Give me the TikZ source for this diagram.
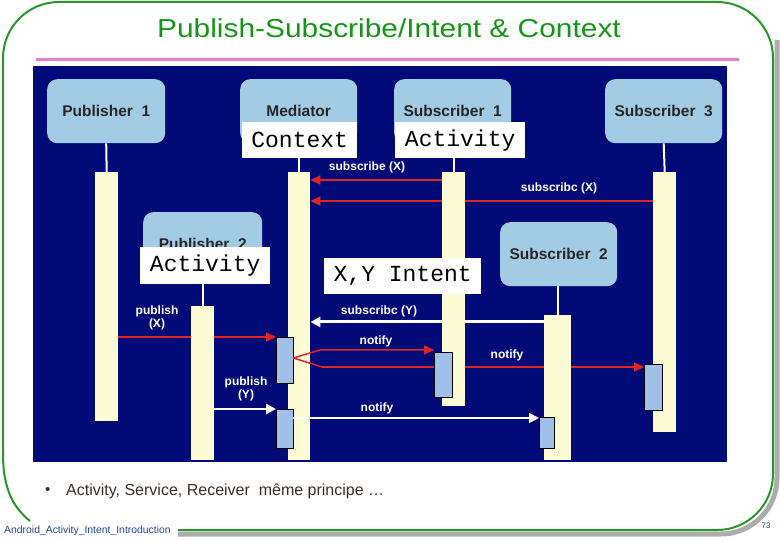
\documentclass[tikz,border=0pt]{standalone}
\usepackage{fontspec}
\setmainfont{Liberation Sans}
\newfontfamily\monofont{Liberation Mono}
\newfontfamily\titlefont[FakeStretch=1.15]{Liberation Sans}
\usetikzlibrary{arrows.meta}
\definecolor{navy}{RGB}{2,10,120}
\definecolor{boxblue}{RGB}{163,203,228}
\definecolor{baryel}{RGB}{252,251,212}
\definecolor{actblue}{RGB}{160,192,234}
\definecolor{arred}{RGB}{225,35,35}
\definecolor{framegreen}{RGB}{40,150,40}
\definecolor{pinkline}{RGB}{225,128,210}
\definecolor{titlegreen}{RGB}{20,150,20}
\definecolor{bullettxt}{RGB}{60,45,35}
\definecolor{footblue}{RGB}{30,70,150}
\begin{document}
\begin{tikzpicture}[x=1pt,y=-1pt,
  rbox/.style={fill=boxblue, rounded corners=10pt, anchor=north west, inner sep=0pt,
    minimum width=118pt, minimum height=64pt, text=black!85, font=\bfseries\fontsize{15.5}{18}\selectfont},
  wbox/.style={fill=white, anchor=north west, inner sep=0pt, minimum height=36pt,
    font=\monofont\fontsize{23}{25}\selectfont},
  abox/.style={fill=actblue, draw=black, line width=0.9pt},
  ghost/.style={anchor=north west, inner sep=0pt},
  life/.style={white, line width=2pt},
  redmsg/.style={arred, line width=1.5pt, -{Triangle[length=10pt,width=9pt]}},
  whitemsg/.style={white, line width=2.5pt, -{Triangle[length=10pt,width=10pt]}},
  lbl/.style={text=white, font=\bfseries\fontsize{12}{13}\selectfont, inner sep=0pt, align=center},
]
\useasboundingbox (0,0) rectangle (780,540);
% frame
\draw[gray!65, line width=5pt, rounded corners=56pt] (777,40) -- (777,534) -- (178,534);
\draw[framegreen, line width=2pt, rounded corners=56pt] (178,530) -- (773,530) -- (773,2) -- (3,2) -- (3,455);
\draw[framegreen, line width=2pt] (3,454) .. controls (3,490) and (14,508) .. (30,521);
% title
\node[text=titlegreen, font=\titlefont\fontsize{26}{28}\selectfont] (title) at (389,28) {Publish-Subscribe/Intent \& Context};
\draw[pinkline, line width=3pt] (36,60) -- (739,60);
% panel
\fill[navy] (33,66) rectangle (727,462);
% place-holders for the bars and activation boxes
\node[ghost, minimum width=23pt, minimum height=249pt] (p1bar) at (95,172) {};
\node[ghost, minimum width=22pt, minimum height=288pt] (medbar) at (288,172) {};
\node[ghost, minimum width=23pt, minimum height=234pt] (s1bar) at (442,172) {};
\node[ghost, minimum width=23pt, minimum height=260pt] (s3bar) at (653,172) {};
\node[ghost, minimum width=23pt, minimum height=154pt] (p2bar) at (191,306) {};
\node[ghost, minimum width=27pt, minimum height=145pt] (s2bar) at (544,315) {};
\node[ghost, minimum width=17pt, minimum height=46pt] (ma1) at (276,337) {};
\node[ghost, minimum width=17pt, minimum height=39pt] (ma2) at (276,409) {};
\node[ghost, minimum width=18pt, minimum height=45pt] (sa1) at (434,352) {};
\node[ghost, minimum width=18pt, minimum height=46pt] (sa3) at (644,364) {};
\node[ghost, minimum width=15pt, minimum height=31pt] (sa2) at (539,417) {};
\coordinate (nfork) at (ma1.east |- 0,358);
\coordinate (nup) at (320,350);
\coordinate (nlow) at (322,367);
% messages passing behind bars
\draw[redmsg] (s3bar.west |- 0,201) -- (medbar.east |- 0,201);
\draw[whitemsg, line width=3pt] (s2bar.west |- 0,322) -- (medbar.east |- 0,322);
\draw[redmsg] (p1bar.east |- 0,337) -- (ma1.west |- 0,337);
\draw[redmsg] (nlow) -- (sa3.west |- 0,367);
% bars
\fill[baryel] (p1bar.north west) rectangle (p1bar.south east);
\fill[baryel] (medbar.north west) rectangle (medbar.south east);
\fill[baryel] (s1bar.north west) rectangle (s1bar.south east);
\fill[baryel] (s3bar.north west) rectangle (s3bar.south east);
\fill[baryel] (p2bar.north west) rectangle (p2bar.south east);
\fill[baryel] (s2bar.north west) rectangle (s2bar.south east);
% boxes
\node[rbox] (pub1) at (47,79) {Publisher\ \ 1};
\node[rbox, minimum width=117pt] (med) at (240,79) {Mediator};
\node[rbox, minimum width=117pt] (sub1) at (394,79) {Subscriber\ \ 1};
\node[rbox, minimum width=117pt] (sub3) at (605,79) {Subscriber\ \ 3};
\node[rbox, minimum width=119pt] (pub2) at (143,212) {Publisher\ \ 2};
\node[rbox, minimum width=117pt] (sub2) at (500,222) {Subscriber\ \ 2};
\node[wbox, minimum width=115pt] (ctx) at (242,122) {Context};
\node[wbox, minimum width=130pt] (act1) at (395,122) {Activity};
\node[wbox, minimum width=130pt, minimum height=37pt] (act2) at (140,247) {Activity};
\node[wbox, minimum width=157pt] (intent) at (324,258) {X,Y Intent};
% lifelines
\draw[life] (pub1.south) -- (p1bar.north);
\draw[life] (medbar.north |- ctx.south) -- (medbar.north);
\draw[life] (s1bar.north |- act1.south) -- (s1bar.north);
\draw[life] (sub3.south) -- (s3bar.north);
\draw[life] (p2bar.north |- act2.south) -- (p2bar.north);
\draw[life] (s2bar.north |- sub2.south) -- (s2bar.north);
% activation boxes
\draw[abox] (ma1.north west) rectangle (ma1.south east);
\draw[abox] (ma2.north west) rectangle (ma2.south east);
\draw[abox] (sa1.north west) rectangle (sa1.south east);
\draw[abox] (sa3.north west) rectangle (sa3.south east);
\draw[abox] (sa2.north west) rectangle (sa2.south east);
% messages over bars
\draw[redmsg] (s1bar.west |- 0,180) -- (medbar.east |- 0,180);
\draw[arred, line width=1.5pt] (nfork) -- (nlow);
\draw[redmsg] (nfork) -- (nup) -- (sa1.west |- 0,350);
\draw[whitemsg] (p2bar.east |- 0,409) -- (ma2.west |- 0,409);
\draw[whitemsg, line width=2pt] (ma2.east |- 0,418) -- (sa2.west |- 0,418);
% labels
\node[lbl] (l1) at (367,167) {subscribe (X)};
\node[lbl] (l2) at (559,188) {subscribc (X)};
\node[lbl] (l3) at (379,311) {subscribc (Y)};
\node[lbl] (l4) at (157,318) {publish\\(X)};
\node[lbl] (l5) at (376,341) {notify};
\node[lbl] (l6) at (507,355) {notify};
\node[lbl] (l7) at (246,389) {publish\\(Y)};
\node[lbl] (l8) at (377,408) {notify};
% bullet text
\node[text=bullettxt, anchor=west, font=\fontsize{15}{17}\selectfont, inner sep=0pt] (bul) at (45,491) {•};
\node[text=bullettxt, anchor=west, font=\fontsize{16}{18}\selectfont, inner sep=0pt] (btxt) at (66,491) {Activity, Service, Receiver\ \ même principe …};
% footer
\node[text=footblue, anchor=west, font=\fontsize{10.4}{12}\selectfont, inner sep=0pt] (foot) at (4,531) {Android\_Activity\_Intent\_Introduction};
\node[text=footblue, font=\fontsize{8}{9}\selectfont, inner sep=0pt] (pg) at (766,526) {73};
\end{tikzpicture}
\end{document}
